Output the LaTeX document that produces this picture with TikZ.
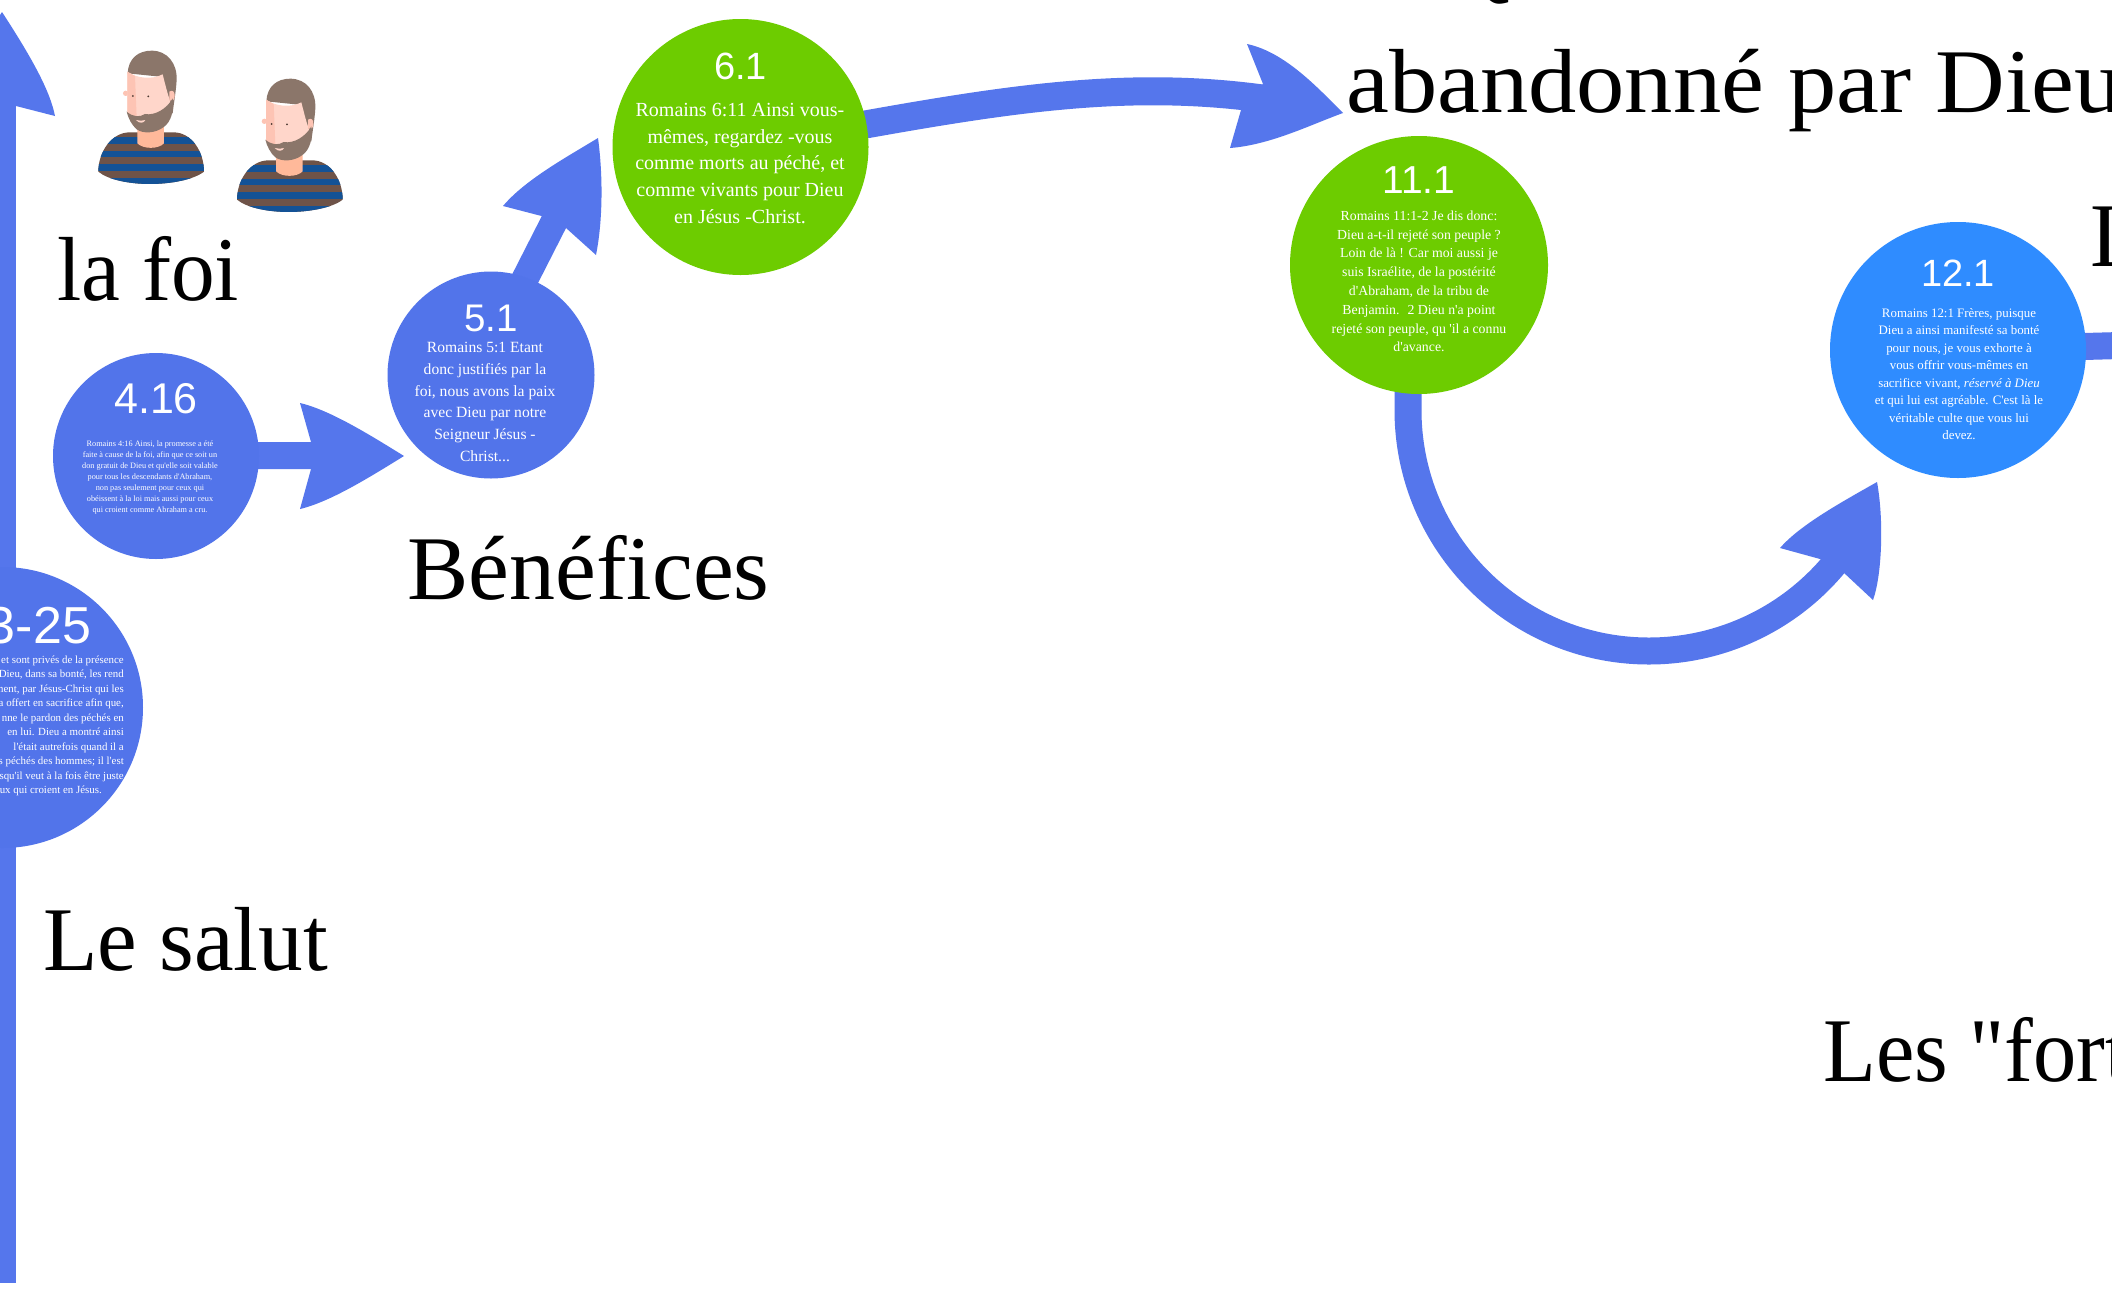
\documentclass[tikz,border=0pt]{standalone}
\usepackage{fontspec}
\usepackage{graphicx}
\newfontfamily\txtf{Liberation Serif}
\newfontfamily\numf{Liberation Sans}
\usetikzlibrary{backgrounds}
\definecolor{arrowblue}{HTML}{5576EC}
\definecolor{discblue}{HTML}{5274EA}
\definecolor{discgreen}{HTML}{6DCC00}
\definecolor{discsky}{HTML}{2F8CFF}
\definecolor{hair}{HTML}{8B766A}
\definecolor{skin}{HTML}{FFD6CA}
\definecolor{skinshade}{HTML}{FDC4B4}
\definecolor{neck}{HTML}{FFB99A}
\definecolor{shirtbrown}{HTML}{6E5348}
\definecolor{shirtblue}{HTML}{135296}
\tikzset{
  disc/.style={circle,inner sep=0pt,draw=none,fill=#1},
  numtxt/.style={inner sep=0pt,anchor=base,text=white,font=\numf\fontsize{#1}{#1}\selectfont},
  bodytxt/.style n args={2}{inner sep=0pt,text=white,align=center,font=\txtf\fontsize{#1}{#2}\selectfont},
  heading/.style={inner sep=0pt,anchor=base west,text=black,font=\txtf\fontsize{91}{100}\selectfont},
  shaft/.style={draw=arrowblue,line width=27pt,line cap=butt},
  headfill/.style={fill=arrowblue,draw=none}
}
\newcommand{\manfig}{%
  \begin{scope}
    \clip (55,425) .. controls (55,365) and (95,307) .. (150,307) -- (280,307) .. controls (335,307) and (372,365) .. (372,425) .. controls (340,450) and (270,462) .. (210,462) .. controls (150,462) and (85,450) .. (55,425) -- cycle;
    \fill[shirtbrown] (40,300) rectangle (390,470);
    \fill[shirtblue] (40,322) rectangle (390,343);
    \fill[shirtblue] (40,362) rectangle (390,382);
    \fill[shirtblue] (40,402) rectangle (390,424);
    \fill[shirtblue] (40,443) rectangle (390,470);
  \end{scope}
  \fill[neck] (172,290) -- (252,290) -- (252,340) .. controls (235,358) and (190,358) .. (172,340) -- cycle;
  \fill[hair] (143,130) .. controls (145,85) and (175,62) .. (215,62) .. controls (262,62) and (292,100) .. (290,150) .. controls (288,185) and (282,215) .. (278,250) -- (245,250) -- (240,140) -- cycle;
  \fill[skinshade] (137,190) circle[radius=8];
  \fill[skin] (142,125) .. controls (170,145) and (215,150) .. (248,133) .. controls (255,160) and (262,190) .. (268,205) -- (275,230) -- (230,290) -- (170,290) -- (142,250) -- cycle;
  \fill[skinshade] (142,125) -- (165,138) -- (170,262) -- (142,250) -- cycle;
  \fill[skinshade] (268,185) .. controls (278,178) and (285,185) .. (284,200) .. controls (283,212) and (275,216) .. (268,212) -- cycle;
  \fill[hair] (140,245) .. controls (160,262) and (180,262) .. (195,252) .. controls (225,258) and (262,235) .. (278,205) .. controls (282,240) and (275,275) .. (250,292) .. controls (225,310) and (190,312) .. (170,298) .. controls (155,285) and (145,265) .. (140,245) -- cycle;
  \fill[skin] (168,270) .. controls (178,273) and (188,273) .. (196,270) .. controls (192,280) and (178,282) .. (168,270) -- cycle;
  \fill[shirtbrown!70!black] (159,198) circle[radius=3];
  \fill[shirtbrown!70!black] (205,199) circle[radius=3];
}
\begin{document}
\begin{tikzpicture}[x=1pt,y=-1pt]
\useasboundingbox (0,0) rectangle (2112,1307);

% discs
\node[disc=discblue,minimum size=281pt] (n323) at (2.5,707.5) {};
\node[disc=discblue,minimum size=206pt] (n416) at (156,456) {};
\node[disc=discblue,minimum size=207pt] (n51) at (491,375) {};
\node[disc=discgreen,minimum size=256pt] (n61) at (740.5,147) {};
\node[disc=discgreen,minimum size=258pt] (n111) at (1419,265) {};
\node[disc=discsky,minimum size=256pt] (n121) at (1958,350) {};

% free ends and head bases
\coordinate (vbot) at (2,1283);
\coordinate (vtop) at (2,100);
\coordinate (h1) at (315,455.5);
\coordinate (s2) at (500,328);
\coordinate (h2) at (558,214);
\coordinate (h3) at (1266,99);
\coordinate (s4) at (1408,300);
\coordinate (a4) at (1408,410);
\coordinate (r5) at (2120,345.5);

\begin{scope}[on background layer]
  \fill[white] (0,0) rectangle (2112,1307);
  \draw[shaft] (vbot) -- (vtop);
  \draw[shaft] (n416.center) -- (h1);
  \draw[shaft] (s2) -- (h2);
  \draw[shaft,line width=28pt] (n61.center) .. controls (960,108) and (1100,76) .. (h3);
  \draw[shaft] (s4) -- (a4) arc[start angle=180,end angle=323,radius=241pt];
  \draw[shaft] (n121.center) -- (r5);
  % heads
  \fill[headfill] (2,12) .. controls (30,55) and (50,90) .. (55,116) -- (16,106) -- (-12,106) -- (-51,116) .. controls (-46,90) and (-26,55) .. (2,12) -- cycle;
  \fill[headfill] (300,403) .. controls (330,410) and (370,435) .. (404,456) .. controls (370,477) and (330,502) .. (300,509) -- (311,469) -- (311,442) -- cycle;
  \fill[headfill] (503,206) .. controls (525,180) and (565,158) .. (598,138) .. controls (603,175) and (603,220) .. (596,255) -- (566,228) -- (541.5,216) -- cycle;
  \fill[headfill] (1247,44) .. controls (1285,52) and (1318,88) .. (1343,113) .. controls (1310,125) and (1270,145) .. (1230,148) -- (1241,110) -- (1263,84) -- cycle;
  \fill[headfill] (1780,548) .. controls (1800,525) and (1840,503) .. (1877,482) .. controls (1884,520) and (1882,575) .. (1873,600) -- (1843,572) -- (1820,559) -- cycle;
\end{scope}

% men
\begin{scope}[shift={(80,30)},x=.3333pt,y=-.3333pt]
  \manfig
\end{scope}
\begin{scope}[shift={(218.7,58)},x=.3333pt,y=-.3333pt]
  \manfig
\end{scope}

% numbers
\node[numtxt=52] (t323) at (39,643) {3-25};
\node[numtxt=43] (t416) at (156,413) {4.16};
\node[numtxt=38.5] (t51) at (491,331) {5.1};
\node[numtxt=38] (t61) at (740.5,79) {6.1};
\node[numtxt=39] (t111) at (1419,193) {11.1};
\node[numtxt=38] (t121) at (1958,286) {12.1};

% verse texts
\node[bodytxt={8.25}{11}] (b416) at (150,478) {Romains 4:16 Ainsi, la promesse a été\\faite à cause de la foi, afin que ce soit un\\don gratuit de Dieu et qu'elle soit valable\\pour tous les descendants d'Abraham,\\non pas seulement pour ceux qui\\obéissent à la loi mais aussi pour ceux\\qui croient comme Abraham a cru.};
\node[bodytxt={15.6}{21.7}] (b51) at (485,402) {Romains 5:1 Etant\\donc justifiés par la\\foi, nous avons la paix\\avec Dieu par notre\\Seigneur Jésus -\\Christ...};
\node[bodytxt={20}{26.8}] (b61) at (740,163.5) {Romains 6:11 Ainsi vous-\\mêmes, regardez -vous\\comme morts au péché, et\\comme vivants pour Dieu\\en Jésus -Christ.};
\node[bodytxt={13.8}{18.8}] (b111) at (1419,281.5) {Romains 11:1-2 Je dis donc:\\Dieu a-t-il rejeté son peuple ?\\Loin de là ! Car moi aussi je\\suis Israélite, de la postérité\\d'Abraham, de la tribu de\\Benjamin.~ 2 Dieu n'a point\\rejeté son peuple, qu 'il a connu\\d'avance.};
\node[bodytxt={12.9}{17.5}] (b121) at (1959,374) {Romains 12:1 Frères, puisque\\Dieu a ainsi manifesté sa bonté\\pour nous, je vous exhorte à\\vous offrir vous-mêmes en\\sacrifice vivant, \textit{réservé à Dieu}\\et qui lui est agréable. C'est là le\\véritable culte que vous lui\\devez.};
\node[inner sep=0pt,text=white,align=right,anchor=east,font=\txtf\fontsize{10.9}{14.5}\selectfont] (b323) at (124,726) {é et sont privés de la présence\\Dieu, dans sa bonté, les rend\hspace*{2pt}\\ment, par Jésus-Christ qui les\hspace*{3pt}\\a offert en sacrifice afin que,\hspace*{2pt}\\nne le pardon des péchés en\hspace*{3pt}\\en lui. Dieu a montré ainsi\hspace*{7pt}\\l'était autrefois quand il a\hspace*{12pt}\\es péchés des hommes; il l'est\hspace*{1pt}\\squ'il veut à la fois être juste\hspace*{5pt}\\eux qui croient en Jésus.\hspace*{22pt}};

% headings
\node[heading] (hfoi) at (57,300) {\scalebox{.96}[1]{la foi}};
\node[heading] (hben) at (407,599) {\scalebox{1.01}[1]{Bénéfices}};
\node[heading] (hsal) at (43,970) {\scalebox{.98}[1]{Le salut}};
\node[heading] (haba) at (1346,112) {\scalebox{1.06}[1]{abandonné par Dieu}};
\node[heading] (hq) at (1444,-11) {Q};
\node[heading] (hl) at (2090,266) {L};
\node[heading] (hfor) at (1823,1081) {\scalebox{.95}[1]{Les "fort}};
\end{tikzpicture}
\end{document}
